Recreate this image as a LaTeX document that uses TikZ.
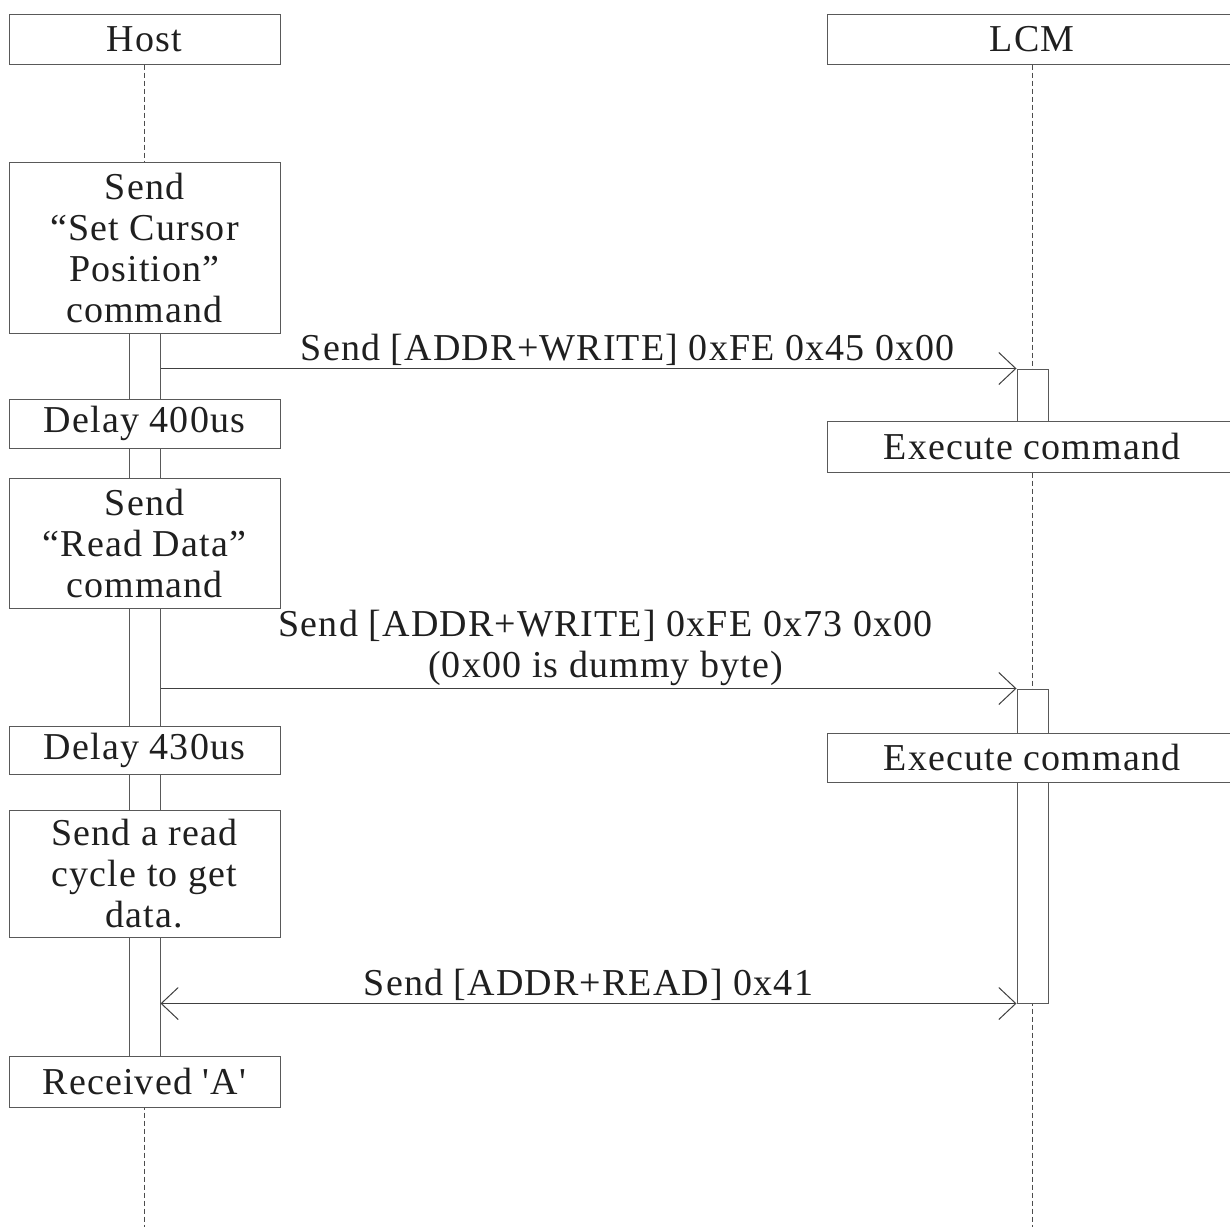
\documentclass[tikz,border=0pt]{standalone}
\usepackage{fontspec}
\newfontfamily\diagfont[LetterSpace=3]{Liberation Serif}
\usetikzlibrary{arrows.meta}
\tikzset{
  box/.style={draw=black!65, fill=white, line width=0.5pt, inner sep=0pt, minimum width=135.5pt, align=center},
  bar/.style={draw=black!65, fill=white, line width=0.5pt, inner sep=0pt, minimum width=15.5pt},
  lifeline/.style={black!70, line width=0.5pt, dash pattern=on 2.5pt off 1.5pt},
  msg/.style={black!75, line width=0.5pt},
  msglabel/.style={anchor=south, inner sep=0pt, yshift=1pt, align=center},
}
\begin{document}
\begin{tikzpicture}[x=0.5pt, y=-0.5pt, >={Straight Barb[length=8.5pt,width=16pt]},
  every node/.style={font=\diagfont\fontsize{19}{20.5}\selectfont, text=black!88}]
	\fill[white] (0,0) rectangle (1230,1227);
	\useasboundingbox (0,0) rectangle (1230,1227);
	\coordinate (bottom) at (0,1227);
	% heads and lifelines
	\node[box, minimum height=25pt] (host) at (144.5,39) {Host};
	\node[box, minimum width=205pt, minimum height=25pt] (lcm) at (1032,39) {LCM};
	\draw[lifeline] (host.south) -- (host.south |- bottom);
	\draw[lifeline] (lcm.south) -- (lcm.south |- bottom);
	% activation bars
	\node[bar, minimum height=361.5pt] (hbar) at (144.5,694.5) {};
	\foreach \n/\a/\b in {lbar1/369/421, lbar2/689/733, lbar3/782/1003} {
		\node[bar, minimum height={(\b-\a)*0.5pt}] (\n) at (1032.5,{(\a+\b)/2}) {};
	}
	% host steps
	\foreach \n/\y/\h/\t in {cmdcursor/247.5/171/{Send\\“Set Cursor\\Position”\\command}, delayA/423.5/49/{Delay 400us}, cmdread/543/130/{Send\\“Read Data”\\command}, delayB/750/48/{Delay 430us}, readcycle/873.5/127/{Send a read\\cycle to get\\data.}, received/1081.5/51/{Received 'A'}} {
		\node[box, minimum height={\h*0.5pt}] (\n) at (144.5,\y) {\t};
	}
	% lcm steps
	\foreach \n/\y/\h in {execA/446.5/51, execB/757.5/49} {
		\node[box, minimum width=205pt, minimum height={\h*0.5pt}] (\n) at (1032,\y) {Execute command};
	}
	% messages
	\draw[msg, ->] (hbar.east |- lbar1.north west) -- node[msglabel, pos=0.546] (msgcursor) {Send [ADDR+WRITE] 0xFE 0x45 0x00} (lbar1.north west);
	\draw[msg, ->] (hbar.east |- lbar2.north west) -- node[msglabel, pos=0.52] (msgread) {Send [ADDR+WRITE] 0xFE 0x73 0x00\\(0x00 is dummy byte)} (lbar2.north west);
	\draw[msg, <->] (hbar.east |- lbar3.south west) -- node[msglabel, pos=0.5] (msgdata) {Send [ADDR+READ] 0x41} (lbar3.south west);
\end{tikzpicture}
\end{document}
